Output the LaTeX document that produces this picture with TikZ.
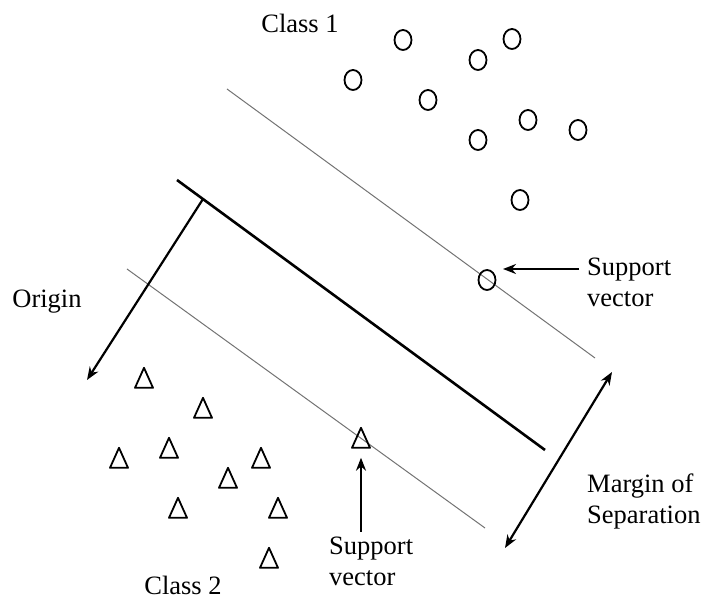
\documentclass[tikz,border=0pt]{standalone}
\usepackage{fontspec}
\setmainfont{Liberation Serif}
\usetikzlibrary{arrows.meta,shapes.geometric}
\begin{document}
\begin{tikzpicture}[x=1pt,y=-1pt,
  lbl/.style={font=\fontsize{26.5}{31}\selectfont, inner sep=0pt, align=left},
  cls1/.style={draw, ellipse, line width=1.8pt, minimum width=17pt, minimum height=20pt, inner sep=0pt},
  cls2/.style={draw, isosceles triangle, shape border rotate=90, isosceles triangle stretches,
               minimum width=18pt, minimum height=20pt, inner sep=0pt, line width=1.8pt, line join=round},
  thin/.style={draw=black!55, line width=1pt},
  thick/.style={draw=black, line width=2.6pt},
  arr/.style={draw=black, line width=2.2pt, -{Stealth[length=13pt,width=10pt]}},
  darr/.style={draw=black, line width=2.2pt, {Stealth[length=13pt,width=10pt]}-{Stealth[length=13pt,width=10pt]}}
]
\useasboundingbox (0,0) rectangle (705,601);

% hyperplanes
\coordinate (u1) at (227,89);  \coordinate (u2) at (595,358);
\coordinate (h1) at (177,180); \coordinate (h2) at (545,450);
\coordinate (l1) at (127,269); \coordinate (l2) at (485,528);
\draw[thin] (u1) -- (u2);
\draw[thick] (h1) -- (h2);
\draw[thin] (l1) -- (l2);

% origin arrow
\coordinate (hp) at (203,199);
\coordinate (org) at (87,380);
\draw[arr] (hp) -- (org);
\node[lbl] (origin) at (47,302) {Origin};

% margin arrow
\coordinate (m1) at (505,548);
\coordinate (m2) at (612,372);
\draw[darr] (m1) -- (m2);
\node[lbl, anchor=west] (margin) at (587,501) {Margin of\\Separation};

% class 1
\node[lbl] (c1lbl) at (300,23) {Class 1};
\node[cls1] (a1) at (403,40) {};
\node[cls1] (a2) at (478,60) {};
\node[cls1] (a3) at (512,39) {};
\node[cls1] (a4) at (353,80) {};
\node[cls1] (a5) at (428,100) {};
\node[cls1] (a6) at (528,120) {};
\node[cls1] (a7) at (578,130) {};
\node[cls1] (a8) at (478,140) {};
\node[cls1] (a9) at (520,200) {};
\node[cls1] (sv1) at (487,280) {};

% class 2
\node[cls2] (b1) at (144,382) {};
\node[cls2] (b2) at (203,412) {};
\node[cls2] (b3) at (169,452) {};
\node[cls2] (b4) at (119,462) {};
\node[cls2] (b5) at (261,462) {};
\node[cls2] (b6) at (228,482) {};
\node[cls2] (b7) at (178,512) {};
\node[cls2] (b8) at (278,512) {};
\node[cls2] (b9) at (269,562) {};
\node[cls2] (sv2) at (361,442) {};
\node[lbl] (c2lbl) at (183,585) {Class 2};

% support vector labels
\node[lbl, anchor=west] (sv1lbl) at (587,282) {Support\\vector};
\coordinate (sv1tail) at (579,269);
\draw[arr, shorten >=16pt] (sv1tail) -- (sv1tail -| sv1);

\node[lbl, anchor=west] (sv2lbl) at (329,561) {Support\\vector};
\coordinate (sv2tail) at (361,532);
\draw[arr, shorten >=9pt] (sv2tail) -- (sv2.south);
\end{tikzpicture}
\end{document}
